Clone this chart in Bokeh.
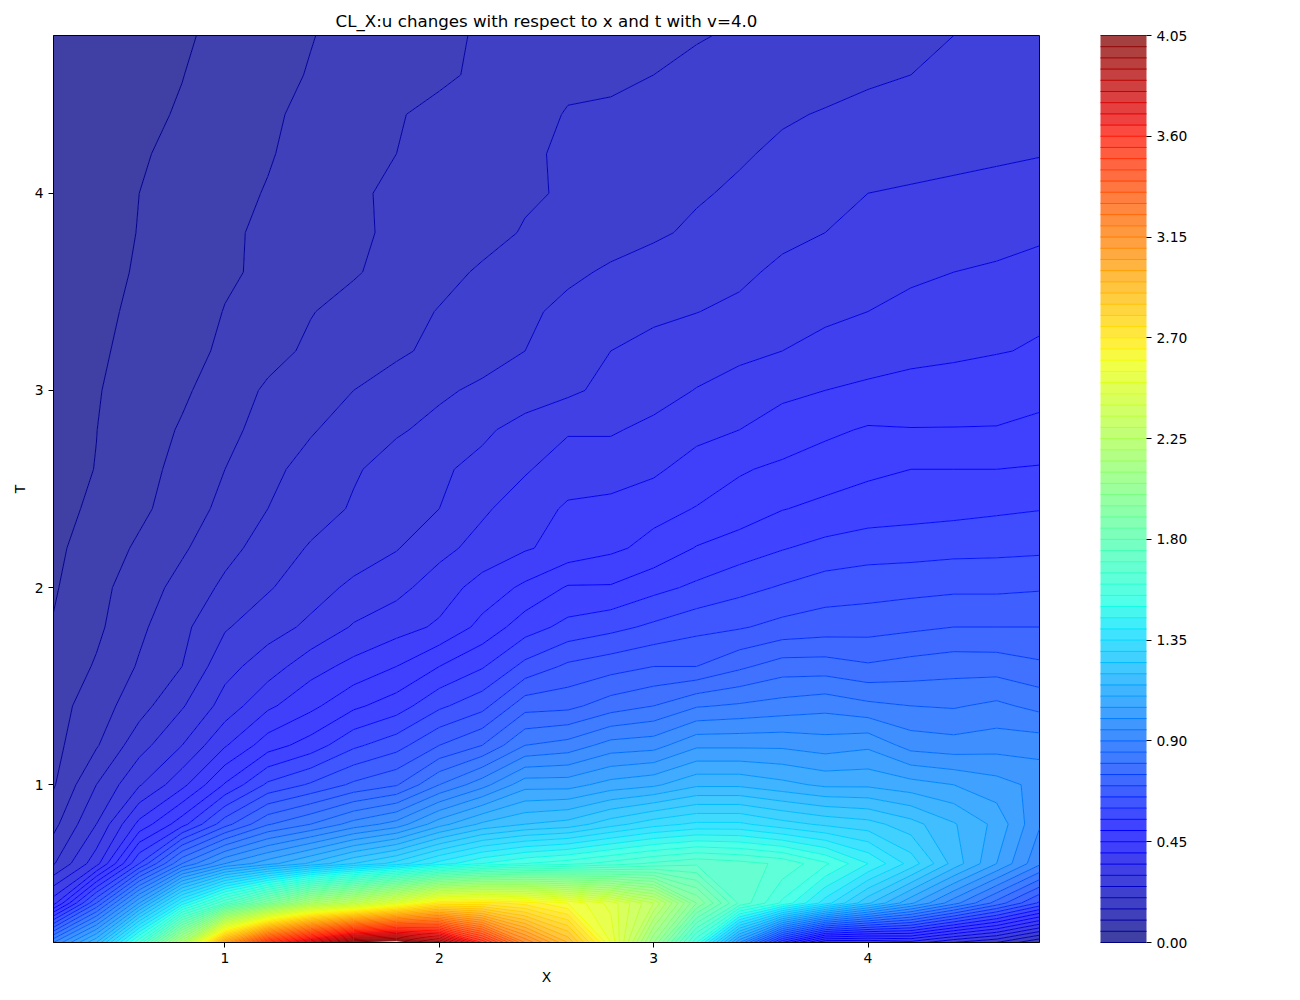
import numpy as np
from bokeh.embed import file_html
from bokeh.models import FixedTicker, PrintfTickFormatter
from bokeh.plotting import figure
from bokeh.resources import INLINE

TITLE = "CL_X:u changes with respect to x and t with v=4.0"
x_vals = [0.2,0.4,0.6,0.8,1.0,1.2,1.4,1.6,1.8,2.0,2.2,2.4,2.6,2.8,3.0,3.2,3.4,3.6,3.8,4.0,4.2,4.4,4.6,4.8]
t_vals = [0.2,0.4,0.6,0.8,1.0,1.2,1.4,1.6,1.8,2.0,2.2,2.4,2.6,2.8,3.0,3.2,3.4,3.6,3.8,4.0,4.2,4.4,4.6,4.8]

u_t02 = [.90,1.15,1.60,2.20,3.05,3.55,3.82,4.08,4.12,3.98,3.60,3.20,2.95,2.55,2.05,1.55,1.00,.55,.30,.30,.33,.25,.20,.10]
u_t04 = [.38,.70,1.05,1.42,1.70,1.95,2.20,2.32,2.50,2.70,2.72,2.68,2.60,2.48,2.30,1.95,1.69,1.54,1.375,1.21,1.06,.92,.78,.64]
u_t06 = [.195,.33,.60,.85,1.00,1.08,1.16,1.25,1.32,1.42,1.50,1.55,1.58,1.62,1.66,1.69,1.67,1.64,1.56,1.45,1.33,1.18,1.05,.91]
u_t08 = [.135,.25,.415,.53,.68,.795,.85,.92,.97,1.08,1.16,1.20,1.22,1.28,1.33,1.36,1.36,1.32,1.29,1.27,1.22,1.155,1.085,.955]
u_t10 = [.095,.20,.295,.385,.505,.61,.657,.71,.745,.85,.93,1.03,1.03,1.07,1.09,1.14,1.14,1.115,1.09,1.09,1.07,1.05,1.02,.985]
u_t12 = [.085,.145,.23,.30,.395,.477,.522,.59,.63,.70,.75,.85,.87,.92,.93,.99,.99,.99,.975,.99,.93,.92,.93,.93]
u_t14 = [.08,.125,.18,.245,.32,.39,.437,.49,.525,.59,.633,.73,.736,.775,.80,.845,.857,.87,.883,.862,.85,.845,.861,.835]
u_t16 = [.065,.105,.155,.20,.283,.325,.38,.415,.45,.50,.545,.615,.66,.68,.70,.70,.74,.774,.774,.757,.77,.78,.778,.76]
u_t18 = [.053,.09,.14,.187,.245,.28,.31,.355,.38,.408,.465,.527,.565,.585,.61,.635,.645,.665,.675,.68,.69,.70,.70,.70]
u_t20 = [.045,.085,.125,.167,.21,.245,.28,.31,.335,.375,.42,.46,.505,.505,.535,.56,.585,.605,.625,.63,.635,.64,.64,.645]
u_t22 = [.04,.072,.108,.143,.185,.22,.255,.275,.297,.335,.368,.395,.418,.44,.465,.503,.525,.547,.565,.578,.58,.585,.587,.59]
u_t24 = [.038,.057,.089,.125,.163,.20,.228,.255,.275,.30,.342,.375,.407,.415,.435,.452,.472,.498,.512,.523,.53,.535,.542,.548]
u_t26 = [.036,.051,.082,.115,.15,.185,.22,.245,.268,.292,.315,.345,.375,.375,.39,.425,.445,.46,.475,.49,.50,.50,.50,.505]
u_t28 = [.034,.0495,.075,.105,.135,.17,.195,.225,.245,.262,.29,.32,.345,.345,.362,.382,.40,.42,.44,.455,.452,.452,.452,.458]
u_t30 = [.032,.047,.07,.092,.125,.157,.18,.20,.222,.243,.258,.272,.29,.315,.33,.352,.372,.39,.40,.41,.418,.424,.432,.44]
u_t32 = [.03,.045,.06,.08,.11,.135,.158,.175,.192,.212,.232,.25,.275,.30,.315,.325,.337,.35,.365,.375,.385,.39,.397,.405]
u_t34 = [.028,.043,.056,.078,.1015,.118,.148,.165,.185,.202,.225,.24,.263,.28,.29,.299,.31,.325,.34,.35,.362,.373,.383,.392]
u_t36 = [.026,.04,.053,.074,.094,.108,.128,.146,.165,.188,.205,.225,.24,.257,.27,.28,.29,.31,.322,.333,.342,.35,.355,.36]
u_t38 = [.024,.038,.051,.072,.091,.11,.127,.145,.155,.17,.187,.203,.218,.23,.243,.258,.272,.288,.30,.313,.322,.33,.337,.345]
u_t40 = [.022,.036,.05,.067,.085,.103,.122,.14,.162,.175,.185,.195,.204,.22,.233,.245,.257,.27,.285,.30,.305,.31,.315,.32]
u_t42 = [.02,.033,.046,.06,.08,.096,.118,.138,.15,.167,.18,.193,.207,.217,.227,.235,.245,.258,.268,.275,.283,.288,.293,.298]
u_t44 = [.017,.03,.04,.054,.073,.092,.112,.13,.147,.16,.17,.183,.203,.204,.217,.228,.235,.245,.253,.262,.27,.28,.287,.295]
u_t46 = [.015,.027,.037,.049,.068,.085,.103,.12,.133,.143,.157,.175,.19,.195,.20,.21,.218,.225,.235,.243,.25,.262,.27,.28]
u_t48 = [.015,.025,.035,.045,.06,.08,.098,.115,.13,.14,.155,.165,.175,.185,.19,.197,.205,.215,.225,.232,.24,.25,.26,.27]

cbar_ticks = [0.0,0.45,0.9,1.35,1.8,2.25,2.7,3.15,3.6,4.05]

z = np.array([u_t02,u_t04,u_t06,u_t08,u_t10,u_t12,u_t14,u_t16,u_t18,u_t20,u_t22,u_t24,
              u_t26,u_t28,u_t30,u_t32,u_t34,u_t36,u_t38,u_t40,u_t42,u_t44,u_t46,u_t48])
X, T = np.meshgrid(x_vals, t_vals)
levels = list(np.round(np.arange(0, 82) * 0.05, 2))

def jet(f):
    r = np.interp(f, [0, .35, .66, .89, 1], [0, 0, 1, 1, .5])
    g = np.interp(f, [0, .125, .375, .64, .91, 1], [0, 0, 1, 1, 0, 0])
    b = np.interp(f, [0, .11, .34, .65, 1], [.5, 1, 1, 0, 0])
    return "#%02x%02x%02x" % (int(r * 255), int(g * 255), int(b * 255))

fill_pal = [jet((levels[i] + levels[i + 1]) / 2 / 4.05) for i in range(81)]
line_pal = [jet(l / 4.05) for l in levels]

p = figure(frame_width=986, frame_height=907, x_range=(0.2, 4.8), y_range=(0.2, 4.8),
           output_backend="svg", toolbar_location=None, title=TITLE,
           x_axis_label="X", y_axis_label="T",
           min_border_left=53, min_border_top=35, min_border_bottom=50, min_border_right=10)
r = p.contour(X, T, z, levels=levels, fill_color=fill_pal, fill_alpha=0.75,
              line_color=line_pal, line_width=1.0, line_alpha=1.0)

FONT = "DejaVu Sans"
p.title.align = "center"
p.title.text_font = FONT
p.title.text_font_size = "16.67px"
p.title.text_font_style = "normal"
p.title.text_color = "black"
p.title.standoff = 9
p.grid.visible = False
p.outline_line_color = "black"
p.outline_line_width = 1
for ax in (p.xaxis[0], p.yaxis[0]):
    ax.ticker = FixedTicker(ticks=[1, 2, 3, 4])
    ax.minor_tick_line_color = None
    ax.major_tick_in = 0
    ax.major_tick_out = 5
    ax.major_tick_line_color = "black"
    ax.axis_line_color = "black"
    ax.major_label_text_font = FONT
    ax.major_label_text_font_size = "13.89px"
    ax.major_label_text_color = "black"
    ax.axis_label_text_font = FONT
    ax.axis_label_text_font_size = "13.89px"
    ax.axis_label_text_font_style = "normal"
    ax.axis_label_text_color = "black"
p.xaxis[0].axis_label_standoff = 3
p.yaxis[0].axis_label_standoff = 4
p.yaxis[0].major_label_orientation = "horizontal"

cb = r.construct_color_bar(width=46, height=907, padding=0,
                           formatter=PrintfTickFormatter(format="%.2f"),
                           major_tick_in=0, major_tick_out=5,
                           major_tick_line_color="black",
                           bar_line_color="black",
                           major_label_text_font=FONT,
                           major_label_text_font_size="13.89px",
                           major_label_text_color="black",
                           location=(61, 0))
cb.ticker = FixedTicker(ticks=cbar_ticks)
p.add_layout(cb, "right")

open("out.html", "w").write(file_html(p, INLINE))
